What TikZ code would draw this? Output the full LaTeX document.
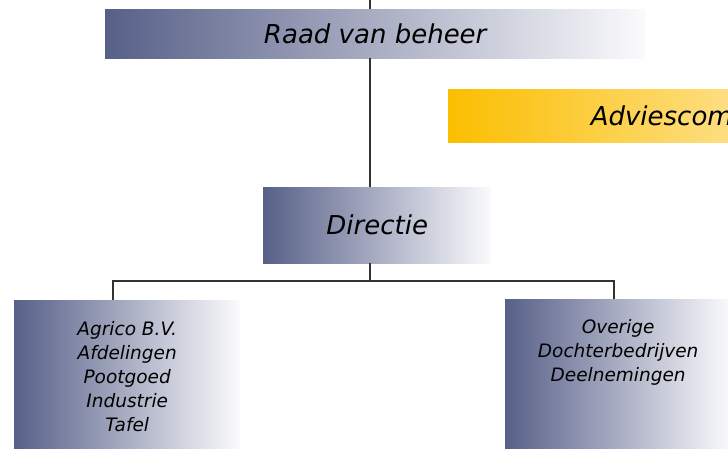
\documentclass[tikz,border=0pt]{standalone}
\usepackage{fontspec}
\setmainfont{DejaVu Sans}
\usetikzlibrary{positioning}
\definecolor{slate}{HTML}{576088}
\definecolor{paleslate}{HTML}{FBFBFD}
\definecolor{amber}{HTML}{FBBE00}
\definecolor{paleamber}{HTML}{FFF8EA}
\definecolor{linegray}{HTML}{333333}

\begin{document}
\begin{tikzpicture}[x=1pt, y=-1pt]
  \tikzset{
      bluebox/.style={rectangle, left color=slate, right color=paleslate, draw=none, inner sep=0pt, anchor=north west},
      goldbox/.style={rectangle, left color=amber, right color=paleamber, draw=none, inner sep=0pt, anchor=north west},
      bigtext/.style={font=\fontsize{26}{30}\selectfont\itshape},
      smalltext/.style={font=\fontsize{18.5}{24}\selectfont\itshape, align=center, inner sep=0pt},
      wire/.style={draw=linegray, line width=1.3pt},
  }
  \clip (0,0) rectangle (728,448);
  % boxes
  \node[bluebox, bigtext, minimum width=540, minimum height=49] (raad) at (105,9) {Raad van beheer};
  \node[goldbox, bigtext, minimum width=510, minimum height=53] (advies) at (448,89) {Adviescommissie};
  \node[bluebox, bigtext, minimum width=228, minimum height=76] (directie) at (263,187) {Directie};
  \node[bluebox, minimum width=226, minimum height=160] (agrico) at (14,300) {};
  \node[bluebox, minimum width=226, minimum height=160] (overige) at (505,299) {};
  % texts in the lower boxes
  \node[smalltext, below=21pt of agrico.north] (agricotext) {Agrico B.V.\\Afdelingen\\Pootgoed\\Industrie\\Tafel};
  \node[smalltext, below=20pt of overige.north] (overigetext) {Overige\\Dochterbedrijven\\Deelnemingen};

  % connectors
  \coordinate (spinetop) at (370,0);
  \coordinate (busleft) at (113,281);
  \coordinate (busright) at (614,281);
  \draw[wire] (spinetop) -- (spinetop |- raad.north);
  \draw[wire] (spinetop |- raad.south) -- (spinetop |- directie.north);
  \draw[wire] (spinetop |- directie.south) -- (spinetop |- busleft);
  \draw[wire] (busleft |- agrico.north) -- (busleft) -- (busright) -- (busright |- overige.north);
\end{tikzpicture}
\end{document}
